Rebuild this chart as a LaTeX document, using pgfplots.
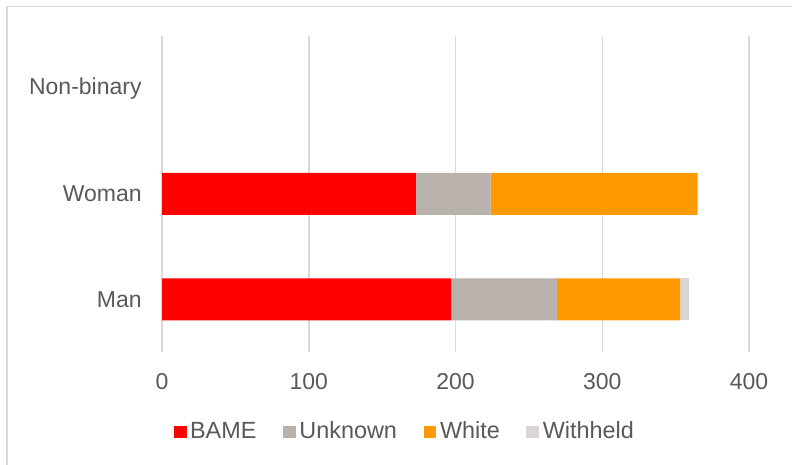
\documentclass[border=0pt]{standalone}
\usepackage{fontspec}
\setmainfont{Liberation Sans}
\usepackage{pgfplots}
\pgfplotsset{compat=1.18}
\definecolor{bame}{HTML}{FF0000}
\definecolor{unknown}{HTML}{B9B1AB}
\definecolor{white2}{HTML}{FF9900}
\definecolor{withheld}{HTML}{D9D5D5}
\definecolor{gridc}{HTML}{D9D9D9}
\definecolor{txt}{HTML}{595959}
\begin{document}
\begin{tikzpicture}
\useasboundingbox (0,0) rectangle (396bp,232.5bp);
\draw[gridc, line width=0.75bp] (3.5bp,0) -- (3.5bp,229.25bp) -- (396bp,229.25bp);
\begin{axis}[
  at={(81bp,56.5bp)}, anchor=south west,
  width=293.5bp, height=158bp, scale only axis,
  xbar stacked, bar width=21bp,
  xmin=0, xmax=400, ymin=-0.5, ymax=2.5,
  xtick={0,100,200,300,400},
  ytick={0,1,2}, yticklabels={Man,Woman,Non-binary},
  xmajorgrids, grid style={gridc, line width=0.75bp},
  axis line style={draw=none},
  major tick length=0pt,
  tick label style={font=\fontsize{11.5bp}{13bp}\selectfont, text=txt},
  /pgf/number format/assume math mode=true,
  xticklabel style={inner sep=0pt, anchor=north, yshift=-10.5bp},
  yticklabel style={inner sep=0pt, anchor=east, xshift=-10bp},
  legend columns=4,
  legend style={at={(0.415,-0.253)}, anchor=center, draw=none,
    font=\fontsize{11.7bp}{13bp}\selectfont, text=txt,
    /tikz/every odd column/.append style={column sep=0bp},
    /tikz/every even column/.append style={column sep=11.5bp},
    nodes={inner sep=1.8bp}},
  legend image code/.code={\fill[#1] (0bp,-3.2bp) rectangle (6.4bp,3.2bp);},
]
\addplot[fill=bame, draw=none] coordinates {(197,0) (173,1) (0,2)};
\addplot[fill=unknown, draw=none] coordinates {(72,0) (51,1) (0,2)};
\addplot[fill=white2, draw=none] coordinates {(84,0) (141,1) (0,2)};
\addplot[fill=withheld, draw=none] coordinates {(6,0) (0,1) (0,2)};
\legend{BAME,Unknown,White,Withheld}
\end{axis}
\end{tikzpicture}
\end{document}
